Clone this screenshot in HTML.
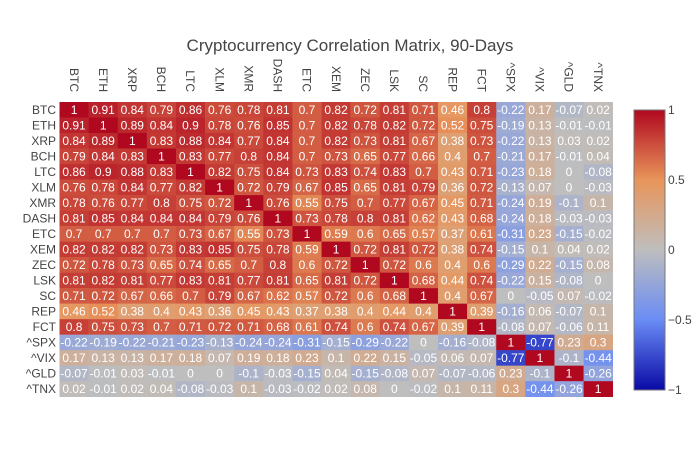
<!DOCTYPE html>
<html><head><meta charset="utf-8"><style>
body{margin:0;background:#fff;}
svg{font-family:"Liberation Sans","DejaVu Sans",sans-serif;}
</style></head><body>
<svg id="s" width="700" height="450" xmlns="http://www.w3.org/2000/svg">
<defs><linearGradient id="cb" x1="0" y1="1" x2="0" y2="0">
<stop offset="0" stop-color="#0a0aa6"/>
<stop offset="0.25" stop-color="#6a8cf5"/>
<stop offset="0.5" stop-color="#bebebe"/>
<stop offset="0.75" stop-color="#e8955a"/>
<stop offset="1" stop-color="#b0081f"/>
</linearGradient></defs>
<text x="350" y="51" text-anchor="middle" font-size="17" fill="#444">Cryptocurrency Correlation Matrix, 90-Days</text>
<g id="g"></g>
<rect x="634" y="110" width="31" height="280" fill="url(#cb)" stroke="#777" stroke-width="1"/>
<g font-size="12" fill="#444">
<text x="668" y="114">1</text><text x="668" y="184">0.5</text><text x="668" y="254">0</text><text x="668" y="324">−0.5</text><text x="668" y="394">−1</text>
</g>
</svg>
<script>
var L=["BTC","ETH","XRP","BCH","LTC","XLM","XMR","DASH","ETC","XEM","ZEC","LSK","SC","REP","FCT","^SPX","^VIX","^GLD","^TNX"];
var R=[
[1,.91,.84,.79,.86,.76,.78,.81,.7,.82,.72,.81,.71,.46,.8,-.22,.17,-.07,.02],
[.91,1,.89,.84,.9,.78,.76,.85,.7,.82,.78,.82,.72,.52,.75,-.19,.13,-.01,-.01],
[.84,.89,1,.83,.88,.84,.77,.84,.7,.82,.73,.81,.67,.38,.73,-.22,.13,.03,.02],
[.79,.84,.83,1,.83,.77,.8,.84,.7,.73,.65,.77,.66,.4,.7,-.21,.17,-.01,.04],
[.86,.9,.88,.83,1,.82,.75,.84,.73,.83,.74,.83,.7,.43,.71,-.23,.18,0,-.08],
[.76,.78,.84,.77,.82,1,.72,.79,.67,.85,.65,.81,.79,.36,.72,-.13,.07,0,-.03],
[.78,.76,.77,.8,.75,.72,1,.76,.55,.75,.7,.77,.67,.45,.71,-.24,.19,-.1,.1],
[.81,.85,.84,.84,.84,.79,.76,1,.73,.78,.8,.81,.62,.43,.68,-.24,.18,-.03,-.03],
[.7,.7,.7,.7,.73,.67,.55,.73,1,.59,.6,.65,.57,.37,.61,-.31,.23,-.15,-.02],
[.82,.82,.82,.73,.83,.85,.75,.78,.59,1,.72,.81,.72,.38,.74,-.15,.1,.04,.02],
[.72,.78,.73,.65,.74,.65,.7,.8,.6,.72,1,.72,.6,.4,.6,-.29,.22,-.15,.08],
[.81,.82,.81,.77,.83,.81,.77,.81,.65,.81,.72,1,.68,.44,.74,-.22,.15,-.08,0],
[.71,.72,.67,.66,.7,.79,.67,.62,.57,.72,.6,.68,1,.4,.67,0,-.05,.07,-.02],
[.46,.52,.38,.4,.43,.36,.45,.43,.37,.38,.4,.44,.4,1,.39,-.16,.06,-.07,.1],
[.8,.75,.73,.7,.71,.72,.71,.68,.61,.74,.6,.74,.67,.39,1,-.08,.07,-.06,.11]];
var M=[];for(var i=0;i<19;i++){M.push([]);for(var j=0;j<19;j++)M[i].push(null);}
for(i=0;i<15;i++)for(j=0;j<19;j++){M[i][j]=R[i][j];M[j][i]=R[i][j];}
M[15][15]=1;M[15][16]=M[16][15]=-.77;M[15][17]=M[17][15]=.23;M[15][18]=M[18][15]=.3;
M[16][16]=1;M[16][17]=M[17][16]=-.1;M[16][18]=M[18][16]=-.44;M[17][17]=1;M[17][18]=M[18][17]=-.26;M[18][18]=1;
var S=[[-1,[10,10,166]],[-.5,[106,140,245]],[0,[190,190,190]],[.5,[232,149,90]],[1,[176,8,31]]];
function col(v){for(var k=0;k<4;k++){if(v<=S[k+1][0]){var t=(v-S[k][0])/.5,a=S[k][1],b=S[k+1][1];return "rgb("+a.map(function(x,n){return Math.round(x+(b[n]-x)*t)}).join(",")+")";}}}
var x0=59.5,y0=102,cw=(612.7-59.5)/19,ch=(396.7-102)/19,h="";
for(i=0;i<19;i++){for(j=0;j<19;j++){var v=M[i][j],x=x0+j*cw,y=y0+i*ch;
h+='<rect x="'+x.toFixed(2)+'" y="'+y.toFixed(2)+'" width="'+(cw+0.3).toFixed(2)+'" height="'+(ch+0.3).toFixed(2)+'" fill="'+col(v)+'"/>';
h+='<text x="'+(x+cw/2).toFixed(2)+'" y="'+(y+ch/2+4.3).toFixed(2)+'" text-anchor="middle" font-size="12" fill="#fff">'+String(v).replace("0.",".").replace(/^\./,"0.").replace("-.","-0.")+'</text>';}
h+='<text x="56" y="'+(y0+i*ch+ch/2+4.3).toFixed(2)+'" text-anchor="end" font-size="12" fill="#444">'+L[i]+'</text>';
h+='<text transform="translate('+(x0+i*cw+cw/2-4.3).toFixed(2)+',92) rotate(90)" text-anchor="end" font-size="12" fill="#444">'+L[i]+'</text>';}
document.getElementById("g").innerHTML=h;
</script>
</body></html>
